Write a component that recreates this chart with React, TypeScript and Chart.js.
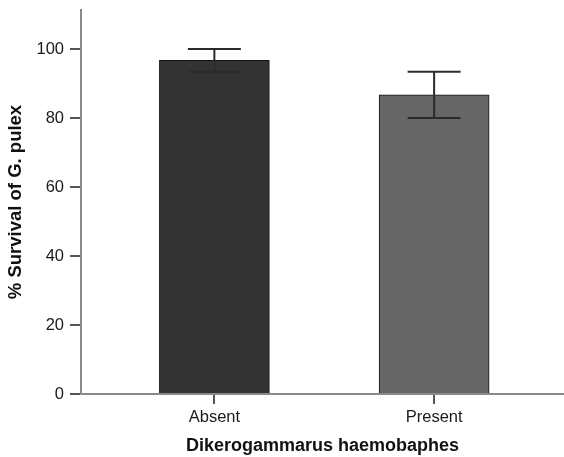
import React, { useEffect, useRef } from "react";
import { Chart, registerables } from "chart.js";

Chart.register(...registerables);

const categories = ["Absent", "Present"];
const positions = [1, 2];
const survivalMeans = [96.7, 86.7];
const survivalErrors = [3.3, 6.7];
const yTickValues = [0, 20, 40, 60, 80, 100];
const barColors = ["#333333", "#666666"];

const FONT = "'Liberation Sans', Arial, Helvetica, sans-serif";

const errorBarPlugin = {
  id: "errorBars",
  afterDatasetsDraw(chart: any) {
    const { ctx } = chart;
    const xs = chart.scales.x;
    const ys = chart.scales.y;
    ctx.save();
    ctx.strokeStyle = "#2b2b2b";
    ctx.lineWidth = 2;
    const half = 26.5;
    positions.forEach((p, i) => {
      const x = xs.getPixelForValue(p);
      const yHi = ys.getPixelForValue(survivalMeans[i] + survivalErrors[i]);
      const yLo = ys.getPixelForValue(survivalMeans[i] - survivalErrors[i]);
      ctx.beginPath();
      ctx.moveTo(x, yHi);
      ctx.lineTo(x, yLo);
      ctx.moveTo(x - half, yHi);
      ctx.lineTo(x + half, yHi);
      ctx.moveTo(x - half, yLo);
      ctx.lineTo(x + half, yLo);
      ctx.stroke();
    });
    ctx.restore();
  },
};

export default function App() {
  const ref = useRef<HTMLCanvasElement>(null);

  useEffect(() => {
    document.body.style.margin = "0";
    const canvas = ref.current;
    if (!canvas) return;
    const chart = new Chart(canvas, {
      type: "bar",
      data: {
        datasets: [
          {
            data: positions.map((p, i) => ({ x: p, y: survivalMeans[i] })),
            backgroundColor: barColors,
            borderColor: "#111111",
            borderWidth: 1,
            barThickness: 110,
          } as any,
        ],
      },
      options: {
        responsive: false,
        animation: false,
        devicePixelRatio: 1,
        layout: { padding: { top: 10, right: 0, bottom: 0, left: 0 } },
        plugins: {
          legend: { display: false },
          tooltip: { enabled: false },
        },
        scales: {
          x: {
            type: "linear",
            offset: false,
            min: 0.393,
            max: 2.591,
            afterBuildTicks: (scale: any) => {
              scale.ticks = positions.map((v) => ({ value: v }));
            },
            afterFit: (scale: any) => {
              scale.height = 63;
              scale.paddingLeft = 0;
              scale.paddingRight = 0;
            },
            grid: {
              offset: false,
              drawOnChartArea: false,
              drawTicks: true,
              tickLength: 10,
              color: "#555555",
              lineWidth: 2,
            },
            border: { display: true, color: "#8a8a8a", width: 2 },
            ticks: {
              padding: 4,
              color: "#1a1a1a",
              font: { family: FONT, size: 16.5 },
              callback: (v: any) => {
                const idx = positions.indexOf(Number(v));
                return idx >= 0 ? categories[idx] : "";
              },
            },
            title: {
              display: true,
              text: "Dikerogammarus haemobaphes",
              color: "#111111",
              font: { family: FONT, size: 18, weight: "bold" },
              padding: { top: 0, bottom: 0 },
            },
          } as any,
          y: {
            type: "linear",
            min: 0,
            max: 111.3,
            afterBuildTicks: (scale: any) => {
              scale.ticks = yTickValues.map((v) => ({ value: v }));
            },
            afterFit: (scale: any) => {
              scale.width = 81;
              scale.paddingTop = 0;
              scale.paddingBottom = 0;
            },
            grid: {
              drawOnChartArea: false,
              drawTicks: true,
              tickLength: 11,
              color: "#555555",
              lineWidth: 2,
            },
            border: { display: true, color: "#8a8a8a", width: 2 },
            ticks: {
              padding: 6,
              color: "#1a1a1a",
              font: { family: FONT, size: 16.5 },
            },
            title: {
              display: true,
              text: "% Survival of G. pulex",
              color: "#111111",
              font: { family: FONT, size: 18.5, weight: "bold" },
              padding: { top: 4.6, bottom: 0 },
            },
          } as any,
        },
      },
      plugins: [errorBarPlugin],
    });
    return () => chart.destroy();
  }, []);

  return (
    <div style={{ position: "fixed", left: 0, top: 0, width: 564, height: 457, background: "#ffffff" }}>
      <canvas ref={ref} width={564} height={457} style={{ width: 564, height: 457, display: "block" }} />
    </div>
  );
}
